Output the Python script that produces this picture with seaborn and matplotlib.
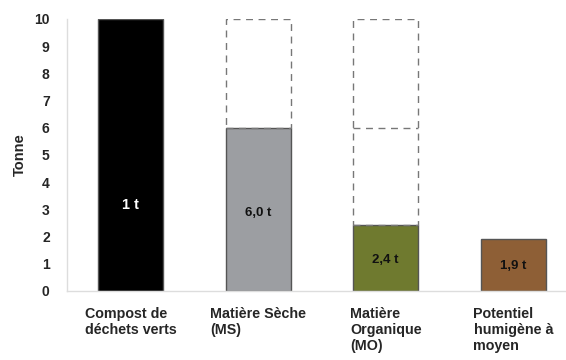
import matplotlib
matplotlib.use("Agg")
import matplotlib.pyplot as plt
import seaborn as sns
import pandas as pd

categories = ["Compost de\ndéchets verts", "Matière Sèche\n(MS)", "Matière\nOrganique\n(MO)", "Potentiel\nhumigène à\nmoyen"]
values = [10.0, 6.0, 2.4, 1.9]
bar_labels = ["1 t", "6,0 t", "2,4 t", "1,9 t"]
label_heights = [3.16, 2.87, 1.14, 0.92]
label_colors = ["white", "#111111", "#111111", "#111111"]
bar_colors = ["#000000", "#9c9ea2", "#6f7a2f", "#8e5f36"]
# dashed "ghost" boxes: category index, bottom, top
ghost_cat = [1, 2]
ghost_bottom = [6.0, 2.4]
ghost_top = [10.0, 10.0]
# dashed divider inside ghost box: category index, level
divider_cat = [2]
divider_level = [6.0]
yticks = list(range(0, 11))

sns.set_theme(style="white")
plt.rcParams["font.family"] = ["Liberation Sans", "DejaVu Sans"]
plt.rcParams["font.weight"] = "bold"

fig = plt.figure(figsize=(5.66, 3.6), dpi=100)
ax = fig.add_axes([67/566, 69.3/360, 1 - 67/566, 271.7/360])

df = pd.DataFrame({"cat": categories, "val": values})
sns.barplot(data=df, x="cat", y="val", hue="cat", palette=bar_colors, legend=False,
            width=0.51, edgecolor="#555555", linewidth=1, saturation=1, ax=ax)

dash = (0, (5, 4))
for c, b, t in zip(ghost_cat, ghost_bottom, ghost_top):
    ax.bar(c, t - b, bottom=b, width=0.51, fill=False, edgecolor="#777777",
           linestyle=dash, linewidth=1)
for c, lv in zip(divider_cat, divider_level):
    ax.hlines(lv, c - 0.255, c + 0.255, colors="#777777", linestyles=dash, linewidth=1)

for i, (lab, h, col) in enumerate(zip(bar_labels, label_heights, label_colors)):
    ax.text(i, h, lab, ha="center", va="center", color=col,
            fontsize=10.5 if i == 0 else 9.5, fontweight="bold")

ax.set_yticks(yticks)
ax.set_yticklabels([str(v) for v in yticks], fontsize=10, fontweight="bold")
ax.set_xticks(range(len(categories)))
ax.set_xticklabels(categories, fontsize=10.3, fontweight="bold", ha="center",
                   multialignment="left", va="top", linespacing=1.15)
ax.set_xticks([-0.5, 0.5, 1.5, 2.5], minor=True)
ax.set_xlim(-0.5, (566 - 67) / 127.5 - 0.5)
ax.set_ylim(0, 10)
ax.tick_params(axis="x", which="major", length=0, pad=12)
ax.tick_params(axis="x", which="minor", length=7.5, color="#cccccc", width=1, direction="out")
ax.tick_params(axis="y", length=7.5, color="#cccccc", width=1, pad=5, direction="out")
ax.set_xlabel("")
ax.set_ylabel("Tonne", fontsize=10.5, fontweight="bold", labelpad=5)

for s in ["top", "right"]:
    ax.spines[s].set_visible(False)
for s in ["left", "bottom"]:
    ax.spines[s].set_color("#dddddd")
    ax.spines[s].set_linewidth(1)

fig.savefig("out.png", dpi=100)
